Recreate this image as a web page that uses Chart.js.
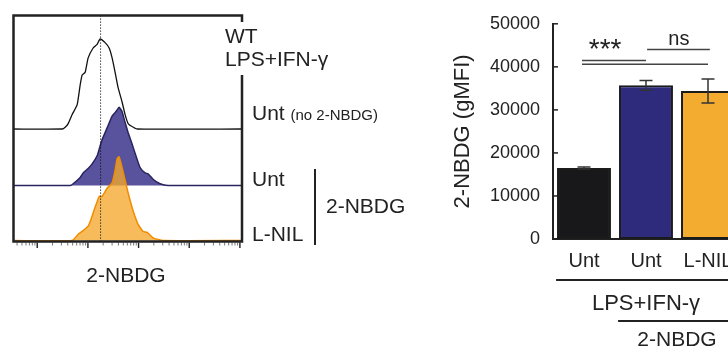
<!DOCTYPE html>
<html>
<head>
<meta charset="utf-8">
<script src="https://cdn.jsdelivr.net/npm/chart.js@4.4.1/dist/chart.umd.min.js"></script>
<style>
html,body{margin:0;padding:0;background:#fff;overflow:hidden;width:728px;height:354px}
#wrap{position:relative;width:728px;height:354px;overflow:hidden;background:#fff}
canvas{position:absolute;left:0;top:0}
</style>
</head>
<body>
<div id="wrap">
<canvas id="hist" width="728" height="354" style="width:728px;height:354px"></canvas>
<canvas id="bars" width="760" height="354" style="width:760px;height:354px"></canvas>
</div>
<script>
// ---------- Histogram data (2-NBDG fluorescence, normalized counts) ----------
const noDyeX      = [34, 311, 356, 408, 489, 614, 704, 770, 883, 1011, 1269, 1521, 1743, 2187, 2623, 3004, 3443, 3946, 4730, 5420, 6211, 6801, 9342, 1100000];
const noDyeCounts = [0, 0, 2, 6, 16, 27, 49, 60, 63, 79, 90, 94, 100, 96, 90, 79, 63, 46, 30, 16, 6, 4, 0, 0];

const untDyeX      = [34, 447, 512, 704, 806, 1011, 1213, 1521, 1743, 1909, 2395, 3004, 3443, 3771, 4130, 4730, 5420, 6211, 7447, 8531, 10706, 13434, 15391, 19307, 26520, 38134, 1100000];
const untDyeCounts = [0, 0, 2, 9, 14, 19, 24, 33, 44, 51, 64, 77, 81, 84, 87, 82, 70, 59, 46, 36, 20, 14, 13, 7, 2, 0, 0];

const lnilDyeX      = [34, 489, 642, 806, 1011, 1159, 1328, 1521, 1667, 1909, 2395, 3004, 3443, 3771, 4130, 4730, 5420, 6211, 7792, 9775, 12265, 14713, 19307, 30394, 1100000];
const lnilDyeCounts = [0, 0, 7, 11, 16, 24, 34, 43, 49, 49, 58, 64, 78, 91, 93, 81, 67, 53, 33, 18, 10, 9, 3, 0, 0];

const gateRef = 1780;              // dotted reference line (2-NBDG intensity)
const histAxisTitle = '2-NBDG';
const histHeader = ['WT', 'LPS+IFN-γ'];
const histRowLabels = ['Unt', 'Unt', 'L-NIL'];
const histRowNote = '(no 2-NBDG)';
const histBracketLabel = '2-NBDG';

// ---------- Bar chart data ----------
const barCategories = ['Unt', 'Unt', 'L-NIL'];
const gMFI     = [16500, 35700, 34400];
const gMFIErr  = [250, 1150, 2800];
const yTicks   = [0, 10000, 20000, 30000, 40000, 50000];
const yTitle   = '2-NBDG (gMFI)';
const groupLabels = ['LPS+IFN-γ', '2-NBDG'];
const groupFrom   = [0, 1];
const groupTo     = [2, 2];
const sigFrom  = [0, 0, 1.05];
const sigTo    = [1, 2, 2.03];
const sigLevel = [41500, 40600, 44000];
const sigText  = ['***', 'ns'];
const sigTextX = [0.34, 1.53];
const sigTextY = [42000, 45100];

const FONT = "'Liberation Sans', Arial, Helvetica, sans-serif";
const INK = '#222';
const toPts = (xs, ys) => xs.map((x, i) => ({x: x, y: ys[i]}));

// ---------- Histogram decorations ----------
const histDecor = {
  id: 'histDecor',
  afterDatasetsDraw(chart) {
    const ctx = chart.ctx, a = chart.chartArea, xs = chart.scales.x;
    ctx.save();
    const gx = xs.getPixelForValue(gateRef);
    ctx.strokeStyle = '#111';
    ctx.lineWidth = 1;
    ctx.setLineDash([1.2, 1.8]);
    ctx.beginPath(); ctx.moveTo(gx, a.top); ctx.lineTo(gx, a.bottom); ctx.stroke();
    ctx.restore();
  },
  afterDraw(chart) {
    const ctx = chart.ctx, a = chart.chartArea, xs = chart.scales.x;
    ctx.save();
    for (let d = 1; d <= 6; d++) {
      for (let k = 1; k <= 9; k++) {
        const v = k * Math.pow(10, d);
        if (v < xs.min || v > xs.max) continue;
        const px = xs.getPixelForValue(v);
        ctx.beginPath();
        ctx.strokeStyle = k === 1 ? '#222' : '#777';
        ctx.lineWidth = k === 1 ? 1.4 : 1;
        ctx.moveTo(px, a.bottom + 1);
        ctx.lineTo(px, a.bottom + (k === 1 ? 6.5 : 4));
        ctx.stroke();
      }
    }
    ctx.strokeStyle = INK;
    ctx.lineWidth = 2.5;
    ctx.beginPath();
    ctx.moveTo(a.right, 22); ctx.lineTo(a.right, a.top); ctx.lineTo(a.left, a.top);
    ctx.lineTo(a.left, a.bottom); ctx.lineTo(a.right, a.bottom); ctx.lineTo(a.right, 75);
    ctx.stroke();
    ctx.fillStyle = INK;
    ctx.textBaseline = 'alphabetic';
    ctx.textAlign = 'left';
    ctx.font = '21px ' + FONT;
    ctx.fillText(histHeader[0], 225, 43);
    ctx.fillText(histHeader[1], 225, 66);
    ctx.fillText(histRowLabels[0], 252, 120);
    const w0 = ctx.measureText(histRowLabels[0] + ' ').width;
    ctx.fillText(histRowLabels[1], 252, 186);
    ctx.fillText(histRowLabels[2], 252, 241);
    ctx.fillText(histBracketLabel, 326, 213);
    ctx.font = '15px ' + FONT;
    ctx.fillText(histRowNote, 252 + w0, 120);
    ctx.lineWidth = 2;
    ctx.beginPath(); ctx.moveTo(315, 169); ctx.lineTo(315, 245); ctx.stroke();
    ctx.font = '21px ' + FONT;
    ctx.textAlign = 'center';
    ctx.fillText(histAxisTitle, 126, 282);
    ctx.restore();
  }
};

new Chart(document.getElementById('hist'), {
  type: 'line',
  data: {
    datasets: [
      {label: 'Unt (no 2-NBDG)', data: toPts(noDyeX, noDyeCounts), yAxisID: 'yA',
       borderColor: '#111', borderWidth: 1.3, fill: false, pointRadius: 0, tension: 0.15, order: 2},
      {label: 'Unt 2-NBDG', data: toPts(untDyeX, untDyeCounts), yAxisID: 'yB',
       borderColor: '#29245e', borderWidth: 1.5, backgroundColor: 'rgba(60,52,140,0.85)',
       fill: 'origin', pointRadius: 0, tension: 0.15, order: 1},
      {label: 'L-NIL 2-NBDG', data: toPts(lnilDyeX, lnilDyeCounts), yAxisID: 'yC',
       borderColor: '#f08c00', borderWidth: 1.5, backgroundColor: 'rgba(245,168,45,0.78)',
       fill: 'origin', pointRadius: 0, tension: 0.15, order: 0}
    ]
  },
  options: {
    responsive: false, animation: false, events: [],
    layout: {padding: {left: 13.5, top: 15.5, right: 486, bottom: 112.5}},
    plugins: {legend: {display: false}, tooltip: {enabled: false}},
    scales: {
      x: {type: 'logarithmic', min: 34, max: 1100000, display: false},
      yA: {type: 'linear', min: -125, max: 126.1, display: false},
      yB: {type: 'linear', min: -62.2, max: 188.9, display: false},
      yC: {type: 'linear', min: -1.1, max: 250, display: false}
    }
  },
  plugins: [histDecor]
});

// ---------- Bar chart decorations ----------
const barDecor = {
  id: 'barDecor',
  afterDatasetsDraw(chart) {
    const ctx = chart.ctx, ys = chart.scales.y, meta = chart.getDatasetMeta(0);
    ctx.save();
    ctx.strokeStyle = '#333';
    ctx.lineWidth = 1.5;
    meta.data.forEach((bar, i) => {
      const x = bar.x;
      const t = ys.getPixelForValue(gMFI[i] + gMFIErr[i]);
      const b = ys.getPixelForValue(gMFI[i] - gMFIErr[i]);
      ctx.beginPath();
      ctx.moveTo(x, t); ctx.lineTo(x, b);
      ctx.moveTo(x - 6.5, t); ctx.lineTo(x + 6.5, t);
      ctx.moveTo(x - 6.5, b); ctx.lineTo(x + 6.5, b);
      ctx.stroke();
    });
    ctx.restore();
  },
  afterDraw(chart) {
    const ctx = chart.ctx, a = chart.chartArea, xs = chart.scales.x, ys = chart.scales.y;
    ctx.save();
    ctx.strokeStyle = INK; ctx.lineWidth = 1.5;
    yTicks.forEach(v => {
      if (v === 0) return;
      const py = ys.getPixelForValue(v);
      ctx.beginPath(); ctx.moveTo(a.left, py); ctx.lineTo(a.left + 5, py); ctx.stroke();
    });
    ctx.strokeStyle = '#444'; ctx.lineWidth = 1.5;
    sigLevel.forEach((lv, i) => {
      const py = ys.getPixelForValue(lv);
      ctx.beginPath();
      ctx.moveTo(xs.getPixelForValue(sigFrom[i]) - 2, py);
      ctx.lineTo(xs.getPixelForValue(sigTo[i]), py);
      ctx.stroke();
    });
    ctx.fillStyle = INK; ctx.textAlign = 'center'; ctx.textBaseline = 'alphabetic';
    ctx.font = '28px ' + FONT;
    ctx.fillText(sigText[0], xs.getPixelForValue(sigTextX[0]), ys.getPixelForValue(sigTextY[0]));
    ctx.font = '20px ' + FONT;
    ctx.fillText(sigText[1], xs.getPixelForValue(sigTextX[1]), ys.getPixelForValue(sigTextY[1]));
    const half = 0.45;
    const lineY = [280, 321];
    const textY = [310, 346];
    ctx.strokeStyle = INK; ctx.lineWidth = 2.2;
    groupLabels.forEach((lab, i) => {
      const x0 = xs.getPixelForValue(groupFrom[i] - half);
      const x1 = xs.getPixelForValue(groupTo[i] + 0.5);
      ctx.beginPath(); ctx.moveTo(x0, lineY[i]); ctx.lineTo(x1, lineY[i]); ctx.stroke();
      ctx.font = (i === 0 ? '22px ' : '21px ') + FONT;
      ctx.fillText(lab, xs.getPixelForValue((groupFrom[i] + groupTo[i]) / 2), textY[i]);
    });
    ctx.translate(469, (a.top + a.bottom) / 2);
    ctx.rotate(-Math.PI / 2);
    ctx.font = '22px ' + FONT;
    ctx.textAlign = 'center';
    ctx.fillText(yTitle, 0, 0);
    ctx.restore();
  }
};

new Chart(document.getElementById('bars'), {
  type: 'bar',
  data: {
    labels: barCategories,
    datasets: [{
      data: gMFI,
      backgroundColor: ['#18181a', '#2e2a7c', '#f3ab30'],
      borderColor: '#1b1b1b', borderWidth: 2, borderSkipped: false,
      barPercentage: 0.87, categoryPercentage: 1
    }]
  },
  options: {
    responsive: false, animation: false, events: [],
    layout: {padding: {left: 473, right: 21, top: 15, bottom: 0}},
    plugins: {legend: {display: false}, tooltip: {enabled: false}},
    scales: {
      x: {
        grid: {display: false, drawTicks: false},
        border: {display: true, width: 2, color: INK},
        ticks: {font: {family: FONT, size: 20}, color: INK, padding: 10, maxRotation: 0, autoSkip: false},
        afterFit(s) { s.height = 115; }
      },
      y: {
        min: 0, max: 50000,
        afterBuildTicks(s) { s.ticks = yTicks.map(v => ({value: v})); },
        grid: {display: false, drawTicks: false},
        border: {display: true, width: 2, color: INK},
        ticks: {font: {family: FONT, size: 18}, color: INK, padding: 13, callback: v => String(v)},
        afterFit(s) { s.width = 80; }
      }
    }
  },
  plugins: [barDecor]
});
</script>
</body>
</html>
